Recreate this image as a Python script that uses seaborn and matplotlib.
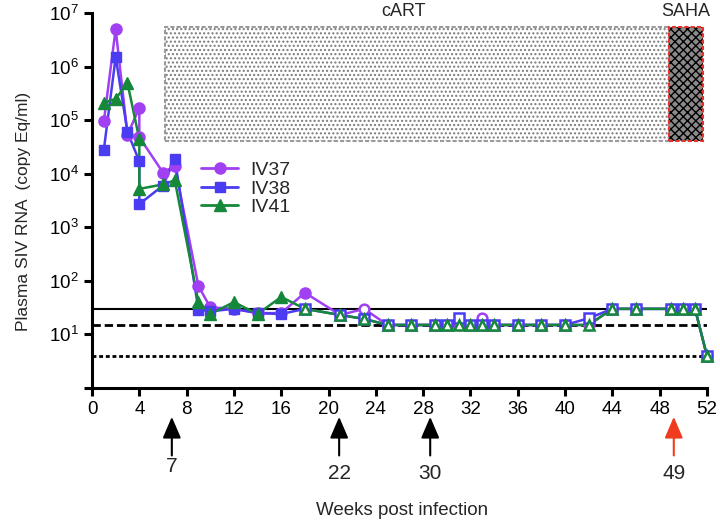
import numpy as np
import matplotlib
matplotlib.use('Agg')
import matplotlib.pyplot as plt
import seaborn as sns
from matplotlib.patches import Rectangle
from matplotlib.lines import Line2D
from matplotlib.ticker import FixedLocator, FixedFormatter

# sampling weeks (two samples in week 4)
weeks = [1, 2, 3, 4, 4, 6, 7, 9, 10, 12, 14, 16, 18, 21, 23, 25, 27, 29, 30, 31,
         32, 33, 34, 36, 38, 40, 42, 44, 46, 49, 50, 51, 52]

iv37 = [9.5e4, 5.0e6, 5.3e4, 1.7e5, 4.8e4, 1.05e4, 1.4e4, 80, 32, 30, 25, 25, 60,
        23, 30, 15, 15, 15, 15, 15, 15, 20, 15, 15, 15, 15, 15, 30, 30, 30, 30, 30, 4]
iv38 = [2.8e4, 1.5e6, 6.0e4, 1.7e4, 2.7e3, 6.0e3, 1.9e4, 29, 27, 30, 25, 24, 30,
        23, 19.5, 15, 15, 15, 15, 20, 15, 15, 15, 15, 15, 15, 20, 30, 30, 30, 30, 30, 4]
iv41 = [2.1e5, 2.5e5, 4.9e5, 4.4e4, 5.2e3, 6.3e3, 7.5e3, 40, 24, 40, 24, 50, 30,
        23, 19.5, 15, 15, 15, 15, 15, 15, 15, 15, 15, 15, 15, 15, 30, 30, 30, 30, 30, 4]

# first week with open (below limit) symbols
open_from = {'IV37': 21, 'IV38': 18, 'IV41': 18}

series = [('IV37', iv37, '#A040F2', 'o', 8),
          ('IV38', iv38, '#4A3CF0', 's', 7.5),
          ('IV41', iv41, '#16883A', '^', 8)]

limits = [30, 15, 4]
arrow_weeks = [6.75, 20.9, 28.6, 49.2]
arrow_labels = ['7', '22', '30', '49']
arrow_colors = ['black', 'black', 'black', '#F03C1E']

sns.set_style('ticks')
plt.rcParams['font.family'] = ['Liberation Sans', 'DejaVu Sans']
plt.rcParams['mathtext.fontset'] = 'custom'
plt.rcParams['mathtext.rm'] = 'Liberation Sans'
plt.rcParams['mathtext.it'] = 'Liberation Sans'

fig = plt.figure(figsize=(7.2, 5.26), dpi=100)
ax = fig.add_axes([0.1278, 0.2624, 0.854, 0.713])

# treatment boxes
ax.add_patch(Rectangle((6.2, 4e4), 42.6, 5.5e6 - 4e4, facecolor='white',
                       edgecolor='#7a7a7a', hatch='....', lw=0, zorder=1))
ax.add_patch(Rectangle((6.2, 4e4), 42.6, 5.5e6 - 4e4, fill=False,
                       edgecolor='#9a9a9a', ls=(0, (2, 1)), lw=1.5, zorder=1))
ax.add_patch(Rectangle((48.8, 4e4), 2.9, 5.5e6 - 4e4, facecolor='#8a8a8a',
                       edgecolor='black', hatch='xxxx', lw=0, zorder=1))
ax.add_patch(Rectangle((48.8, 4e4), 2.9, 5.5e6 - 4e4, fill=False,
                       edgecolor='#E8312A', ls=(0, (2, 1)), lw=1.5, zorder=1))
ax.text(26.3, 1.003, 'cART', transform=ax.get_xaxis_transform(), ha='center',
        va='center', fontsize=13)
ax.text(50.2, 1.003, 'SAHA', transform=ax.get_xaxis_transform(), ha='center',
        va='center', fontsize=13)

# detection limits
ax.axhline(limits[0], color='black', lw=1.5, zorder=2)
l2 = ax.axhline(limits[1], color='black', lw=2, zorder=2)
l2.set_dashes([3.0, 1.4])
l3 = ax.axhline(limits[2], color='black', lw=2, zorder=2)
l3.set_dashes([1.4, 1.0])

wk = np.array(weeks)
handles = []
for name, vals, col, mk, ms in series:
    v = np.array(vals)
    sns.lineplot(x=wk, y=v, ax=ax, color=col, lw=1.8, sort=False,
                 estimator=None, zorder=3)
    closed = wk < open_from[name]
    ax.plot(wk[closed], v[closed], ls='none', marker=mk, ms=ms, color=col,
            zorder=4, clip_on=False)
    ax.plot(wk[~closed], v[~closed], ls='none', marker=mk, ms=ms - 1,
            mfc='white', mec=col, mew=1.8, zorder=4, clip_on=False)
    handles.append(Line2D([], [], color=col, lw=2, marker=mk, ms=ms, label=name))

ax.legend(handles=handles, loc='upper left', bbox_to_anchor=(0.165, 0.625),
          frameon=False, fontsize=14, handlelength=1.9, handletextpad=0.6,
          labelspacing=0.05, borderaxespad=0)

ax.set_yscale('log')
ax.set_ylim(1, 1e7)
ax.set_xlim(0, 52)
ax.set_xticks(range(0, 53, 4))
ax.yaxis.set_major_locator(FixedLocator([10.0 ** k for k in range(8)]))
ax.yaxis.set_major_formatter(FixedFormatter([''] + [r'$10^{%d}$' % k for k in range(1, 8)]))
ax.yaxis.set_minor_locator(FixedLocator([]))
ax.tick_params(axis='both', direction='out', length=6, width=2.2, labelsize=13.5,
               color='black', labelcolor='black')
for s in ['left', 'bottom']:
    ax.spines[s].set_linewidth(2.2)
    ax.spines[s].set_color('black')
sns.despine(ax=ax)

ax.set_ylabel('Plasma SIV RNA  (copy Eq/ml)', fontsize=12.5)
ax.yaxis.set_label_coords(-0.10, 0.47)
ax.set_xlabel('Weeks post infection', fontsize=13.5)
ax.xaxis.set_label_coords(0.505, -0.305)

for x, lab, c in zip(arrow_weeks, arrow_labels, arrow_colors):
    ax.annotate('', xy=(x, -0.077), xytext=(x, -0.18),
                xycoords=('data', 'axes fraction'), textcoords=('data', 'axes fraction'),
                annotation_clip=False,
                arrowprops=dict(arrowstyle='-|>,head_length=0.65,head_width=0.28',
                                lw=1.5, color=c, mutation_scale=20,
                                shrinkA=0, shrinkB=0))
    ax.text(x, -0.227 if lab != '7' else -0.21, lab, transform=ax.get_xaxis_transform(),
            ha='center', va='center', fontsize=15)

fig.savefig('out.png', dpi=100)
